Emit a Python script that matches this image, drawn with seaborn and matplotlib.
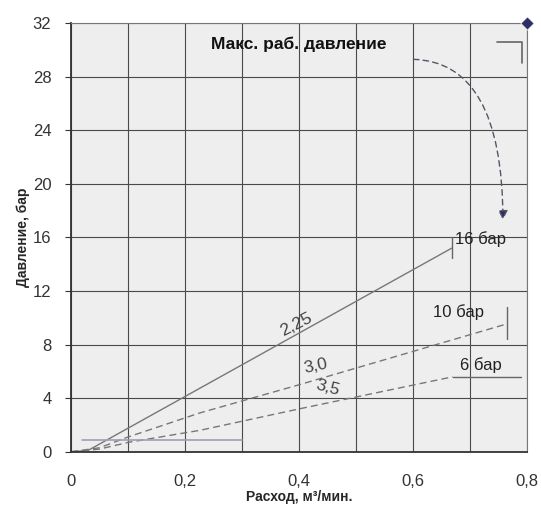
import matplotlib
matplotlib.use("Agg")
import matplotlib.pyplot as plt
import seaborn as sns
import pandas as pd

# Flow, m3/min vs pressure, bar
flow_16 = [0.0, 0.03, 0.668]
press_16 = [0.0, 0.1, 15.2]
flow_10 = [0.0, 0.05, 0.1, 0.226, 0.4, 0.765]
press_10 = [0.0, 0.3, 1.1, 2.9, 5.0, 9.55]
flow_6 = [0.0, 0.05, 0.1, 0.226, 0.4, 0.67]
press_6 = [0.0, 0.2, 0.7, 1.6, 3.2, 5.6]
flow_base = [0.02, 0.3]
press_base = [0.85, 0.85]
max_flow = [0.8]
max_press = [32]

ratio_labels = ["2,25", "3,0", "3,5"]
bar_labels = ["16 бар", "10 бар", "6 бар"]

sns.set_style("white")
plt.rcParams["font.family"] = ["Liberation Sans", "DejaVu Sans"]

fig, ax = plt.subplots(figsize=(5.41, 5.14), dpi=100)
fig.subplots_adjust(left=0.131, right=0.974, top=0.955, bottom=0.121)
ax.set_facecolor("#eeeeee")

sns.lineplot(x=flow_16, y=press_16, ax=ax, color="#777777", lw=1.0, sort=False)
sns.lineplot(x=flow_10, y=press_10, ax=ax, color="#777777", lw=1.0, sort=False,
             linestyle=(0, (5, 3)))
sns.lineplot(x=flow_6, y=press_6, ax=ax, color="#777777", lw=1.0, sort=False,
             linestyle=(0, (5, 3)))
sns.lineplot(x=flow_base, y=press_base, ax=ax, color="#a0a0b0", lw=1.2, sort=False)
sns.scatterplot(x=max_flow, y=max_press, ax=ax, marker="D", s=45, color="#2e2e66",
                zorder=6, clip_on=False)

# end ticks and label underlines
ax.plot([flow_16[-1]] * 2, [14.5, 16.0], color="#666666", lw=1)
ax.plot([flow_10[-1]] * 2, [8.4, 10.8], color="#666666", lw=1)
ax.plot([flow_6[-1], 0.79], [press_6[-1]] * 2, color="#666666", lw=1)
ax.plot([0.747, 0.791, 0.791], [30.6, 30.6, 29.0], color="#666666", lw=1.2)

ax.text(flow_16[-1] + 0.006, 15.9, bar_labels[0], fontsize=12, va="center", color="#222222")
ax.text(0.68, 10.4, bar_labels[1], fontsize=12, va="center", ha="center", color="#222222")
ax.text(0.72, 6.5, bar_labels[2], fontsize=12, va="center", ha="center", color="#222222")

ax.text(0.395, 9.5, ratio_labels[0], fontsize=12.5, rotation=27, ha="center", va="center",
        color="#444444")
ax.text(0.43, 6.4, ratio_labels[1], fontsize=12.5, rotation=12, ha="center", va="center",
        color="#444444")
ax.text(0.45, 4.8, ratio_labels[2], fontsize=12.5, rotation=-15, ha="center", va="center",
        color="#444444")

ax.text(0.40, 30.4, "Макс. раб. давление", fontsize=12.5, fontweight="bold",
        ha="center", va="center", color="#111111")
ax.annotate("", xy=(0.758, 17.1), xytext=(0.596, 29.3),
            arrowprops=dict(arrowstyle="-|>", color="#555566", lw=1, linestyle=(0, (4, 3)),
                            connectionstyle="angle3,angleA=0,angleB=90",
                            mutation_scale=14, fc="#2e2e66"))

ax.set_xlim(0, 0.8)
ax.set_ylim(0, 32)
ax.set_xticks([0, 0.2, 0.4, 0.6, 0.8])
ax.set_xticklabels(["0", "0,2", "0,4", "0,6", "0,8"])
ax.set_xticks([0.1, 0.3, 0.5, 0.7], minor=True)
ax.set_yticks(range(0, 33, 4))
ax.grid(True, which="both", color="#4a4a4a", lw=0.8)
ax.tick_params(axis="both", which="major", labelsize=12, colors="#333333", length=4,
               direction="out", left=True, bottom=False, pad=10)
ax.tick_params(axis="x", which="major", pad=12)
ax.tick_params(axis="x", which="minor", bottom=False)
for side in ["left", "bottom"]:
    ax.spines[side].set_color("#333333")
    ax.spines[side].set_linewidth(1.3)
for side in ["top", "right"]:
    ax.spines[side].set_color("#777777")
    ax.spines[side].set_linewidth(0.8)

ax.set_xlabel("Расход, м³/мин.", fontsize=10, fontweight="bold", labelpad=1)
ax.set_ylabel("Давление, бар", fontsize=10, fontweight="bold", labelpad=2)

fig.savefig("out.png", dpi=100)
